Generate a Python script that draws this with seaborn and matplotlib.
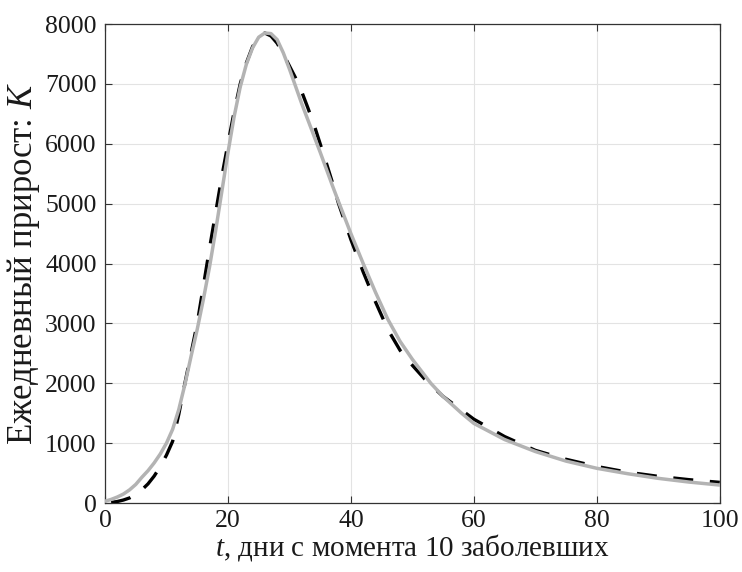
import matplotlib
matplotlib.use("Agg")
import matplotlib.pyplot as plt
import seaborn as sns

# Фактические данные (пунктир)
t_data = [1, 2, 3, 4, 5, 6, 7, 8, 9, 10, 11, 12, 13, 14, 15, 16, 17, 18, 19, 20,
          21, 22, 23, 24, 25, 26, 27, 28, 29, 30, 31, 32, 33, 34, 35, 36, 37, 38,
          40, 42, 44, 46, 48, 50, 52, 55, 60, 65, 70, 75, 80, 85, 90, 95, 100]
k_data = [10, 25, 50, 85, 140, 220, 320, 450, 610, 800, 1030, 1480, 2000, 2500, 3000,
          3620, 4250, 4850, 5450, 6000, 6530, 7000, 7350, 7620, 7800, 7850, 7800, 7680,
          7500, 7300, 7100, 6870, 6600, 6320, 6000, 5680, 5350, 5000,
          4400, 3860, 3360, 2900, 2550, 2300, 2070, 1780, 1400, 1110, 880, 730, 610,
          515, 445, 390, 345]

# Модель (сплошная серая линия)
t_model = [0, 1, 2, 3, 4, 5, 6, 7, 8, 9, 10, 11, 12, 13, 14, 15, 16, 17, 18, 19, 20,
           21, 22, 23, 24, 25, 26, 27, 28, 29, 30, 31, 32, 33, 34, 35, 36, 37, 38,
           40, 42, 44, 46, 48, 50, 53, 55, 58, 60, 65, 70, 75, 80, 85, 90, 95, 100]
k_model = [30, 60, 100, 150, 220, 310, 430, 540, 670, 820, 1000, 1230, 1560, 1980, 2450,
           2900, 3400, 3940, 4550, 5200, 5850, 6450, 6950, 7330, 7600, 7780, 7850, 7840,
           7740, 7520, 7250, 6960, 6670, 6400, 6130, 5860, 5580, 5300, 5030,
           4500, 4000, 3520, 3070, 2700, 2400, 2000, 1780, 1500, 1330, 1060, 860, 700,
           580, 490, 412, 350, 300]

x_ticks = [0, 20, 40, 60, 80, 100]
y_ticks = [0, 1000, 2000, 3000, 4000, 5000, 6000, 7000, 8000]

sns.set_theme(style="ticks")
plt.rcParams['font.family'] = ['Liberation Serif', 'DejaVu Serif']
plt.rcParams['mathtext.fontset'] = 'custom'
plt.rcParams['mathtext.rm'] = 'Liberation Serif'
plt.rcParams['mathtext.it'] = 'Liberation Serif:italic'

fig = plt.figure(figsize=(7.42, 5.72), dpi=100)
ax = fig.add_axes([0.1415, 0.1206, 0.8285, 0.8374])

sns.lineplot(x=t_data, y=k_data, ax=ax, color='black', lw=2.4,
             linestyle=(0, (6, 5)), zorder=3)
sns.lineplot(x=t_model, y=k_model, ax=ax, color='#b3b3b3', lw=2.5,
             solid_capstyle='round', solid_joinstyle='round', zorder=4)

ax.set_xlim(0, 100)
ax.set_ylim(0, 8000)
ax.set_xticks(x_ticks)
ax.set_yticks(y_ticks)
ax.grid(True, color='#e3e3e3', lw=0.8)
ax.set_axisbelow(True)

for s in ax.spines.values():
    s.set_visible(True)
    s.set_color('#333333')
    s.set_linewidth(0.9)
ax.tick_params(direction='in', length=5, width=0.8, colors='#333333',
               top=True, right=True, labelsize=18.5, labelcolor='#1a1a1a')
ax.tick_params(axis='y', pad=6)
ax.tick_params(axis='x', pad=5)

ax.set_xlabel(r'$t$, дни с момента 10 заболевших', fontsize=21, color='#1a1a1a', labelpad=0)
ax.set_ylabel(r'Ежедневный прирост: $K$', fontsize=25, color='#1a1a1a', labelpad=2)

fig.savefig('out.png', dpi=100)
